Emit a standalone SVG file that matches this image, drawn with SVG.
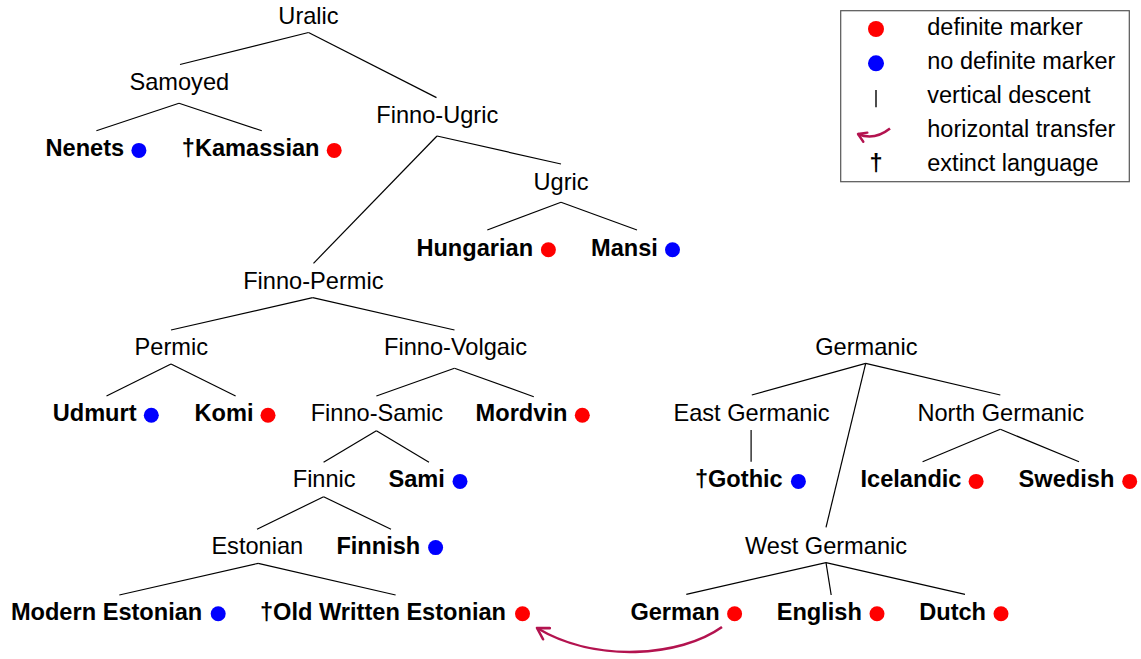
<svg xmlns="http://www.w3.org/2000/svg" width="1141" height="659" viewBox="0 0 1141 659">
<style>
text{font-family:"Liberation Sans",Arial,sans-serif;font-size:23.6px;fill:#000}
.n{text-anchor:middle}
.l{font-weight:bold}
.lg{font-size:23.5px}
.r{fill:#ff0000}
.b{fill:#0000ff}
#connectors line{stroke:#000;stroke-width:1.2}
.ht{fill:none;stroke:#b3134f;stroke-width:2.6}
</style>
<defs>
<marker id="ah" markerUnits="userSpaceOnUse" viewBox="-14 -8 16 16" markerWidth="16" markerHeight="16" orient="auto" refX="0" refY="0">
<path d="M -11 -6.5 L 0 0 L -11 6.5" fill="none" stroke="#b3134f" stroke-width="2.6" stroke-linecap="round" stroke-linejoin="round"/>
</marker>
<marker id="ahs" markerUnits="userSpaceOnUse" viewBox="-12 -7 14 14" markerWidth="14" markerHeight="14" orient="auto" refX="0" refY="0">
<path d="M -8 -5 L 0 0 L -8 5" fill="none" stroke="#b3134f" stroke-width="2.4" stroke-linecap="round" stroke-linejoin="round"/>
</marker>
</defs>
<rect width="1141" height="659" fill="#fff"/>

<g id="connectors">
<line x1="308.5" y1="32.5" x2="180" y2="64.5"/>
<line x1="308.5" y1="32.5" x2="436.5" y2="97.6"/>
<line x1="179" y1="103.3" x2="96.4" y2="130.7"/>
<line x1="179" y1="103.3" x2="261.8" y2="130.7"/>
<line x1="437" y1="136" x2="561" y2="164"/>
<line x1="437" y1="136" x2="313.5" y2="263.3"/>
<line x1="561" y1="202.3" x2="487.3" y2="230"/>
<line x1="561" y1="202.3" x2="637" y2="230"/>
<line x1="312.7" y1="297.7" x2="171" y2="330"/>
<line x1="312.7" y1="297.7" x2="454.5" y2="330"/>
<line x1="171" y1="364" x2="106.5" y2="396"/>
<line x1="171" y1="364" x2="235.6" y2="396"/>
<line x1="454.5" y1="368.3" x2="376.4" y2="396"/>
<line x1="454.5" y1="368.3" x2="533.8" y2="396.7"/>
<line x1="376.4" y1="430.7" x2="323.6" y2="462.3"/>
<line x1="376.4" y1="430.7" x2="429" y2="462.3"/>
<line x1="323.6" y1="496.7" x2="257" y2="529.3"/>
<line x1="323.6" y1="496.7" x2="391" y2="529.3"/>
<line x1="258.2" y1="563.3" x2="119.3" y2="595"/>
<line x1="258.2" y1="563.3" x2="395.6" y2="595"/>
<line x1="865.7" y1="363.3" x2="751.8" y2="395"/>
<line x1="865.7" y1="363.3" x2="1000.3" y2="395"/>
<line x1="865.7" y1="363.3" x2="826" y2="527.3"/>
<line x1="751.1" y1="430" x2="751.1" y2="461.7"/>
<line x1="1000.3" y1="429.3" x2="922.6" y2="461.7"/>
<line x1="1000.3" y1="429.3" x2="1079" y2="461.7"/>
<line x1="826" y1="562.7" x2="686.3" y2="594.3"/>
<line x1="826" y1="562.7" x2="831.2" y2="595"/>
<line x1="826" y1="562.7" x2="965" y2="594.3"/>
<path class="ht" d="M 722 627 C 680 657, 595 663, 537 628" marker-end="url(#ah)"/>
</g>

<g id="uralic"><text class="n" x="308.5" y="24">Uralic</text></g>
<g id="samoyed"><text class="n" x="179.3" y="90.2">Samoyed</text></g>
<g id="finno-ugric"><text class="n" x="437.3" y="123.3">Finno-Ugric</text></g>
<g id="nenets"><text class="l" x="45.5" y="156.4">Nenets</text><circle class="b" cx="138.9" cy="150.4" r="7.5"/></g>
<g id="kamassian"><text class="l" x="181.8" y="156.4">†Kamassian</text><circle class="r" cx="334.2" cy="150.4" r="7.5"/></g>
<g id="ugric"><text class="n" x="561" y="189.5">Ugric</text></g>
<g id="hungarian"><text class="l" x="416.4" y="255.7">Hungarian</text><circle class="r" cx="548.4" cy="249.7" r="7.5"/></g>
<g id="mansi"><text class="l" x="591" y="255.7">Mansi</text><circle class="b" cx="672.5" cy="249.7" r="7.5"/></g>
<g id="finno-permic"><text class="n" x="313.3" y="288.8">Finno-Permic</text></g>
<g id="permic"><text class="n" x="171.3" y="355">Permic</text></g>
<g id="finno-volgaic"><text class="n" x="455.5" y="355">Finno-Volgaic</text></g>
<g id="udmurt"><text class="l" x="52.7" y="421.2">Udmurt</text><circle class="b" cx="151.3" cy="415.2" r="7.5"/></g>
<g id="komi"><text class="l" x="194.5" y="421.2">Komi</text><circle class="r" cx="268" cy="415.2" r="7.5"/></g>
<g id="finno-samic"><text class="n" x="376.9" y="421.2">Finno-Samic</text></g>
<g id="mordvin"><text class="l" x="475.6" y="421.2">Mordvin</text><circle class="r" cx="582.3" cy="415.2" r="7.5"/></g>
<g id="finnic"><text class="n" x="324.2" y="487.4">Finnic</text></g>
<g id="sami"><text class="l" x="388.4" y="487.4">Sami</text><circle class="b" cx="460" cy="481.4" r="7.5"/></g>
<g id="estonian"><text class="n" x="257.3" y="553.6">Estonian</text></g>
<g id="finnish"><text class="l" x="336.4" y="553.6">Finnish</text><circle class="b" cx="435.6" cy="547.6" r="7.5"/></g>
<g id="modern-estonian"><text class="l" x="10.9" y="619.8">Modern Estonian</text><circle class="b" cx="218.2" cy="613.8" r="7.5"/></g>
<g id="old-written-estonian"><text class="l" x="260" y="619.8">†Old Written Estonian</text><circle class="r" cx="522.5" cy="613.8" r="7.5"/></g>

<g id="germanic"><text class="n" x="866.3" y="355">Germanic</text></g>
<g id="east-germanic"><text class="n" x="751.5" y="421.2">East Germanic</text></g>
<g id="north-germanic"><text class="n" x="1000.7" y="421.2">North Germanic</text></g>
<g id="gothic"><text class="l" x="694.9" y="487.4">†Gothic</text><circle class="b" cx="798.4" cy="481.4" r="7.5"/></g>
<g id="icelandic"><text class="l" x="860.5" y="487.4">Icelandic</text><circle class="r" cx="976.1" cy="481.4" r="7.5"/></g>
<g id="swedish"><text class="l" x="1018.6" y="487.4">Swedish</text><circle class="r" cx="1129.7" cy="481.4" r="7.5"/></g>
<g id="west-germanic"><text class="n" x="826" y="553.6">West Germanic</text></g>
<g id="german"><text class="l" x="630.4" y="619.8">German</text><circle class="r" cx="734.6" cy="613.8" r="7.5"/></g>
<g id="english"><text class="l" x="776.7" y="619.8">English</text><circle class="r" cx="877" cy="613.8" r="7.5"/></g>
<g id="dutch"><text class="l" x="919.2" y="619.8">Dutch</text><circle class="r" cx="1001" cy="613.8" r="7.5"/></g>

<g id="legend">
<rect x="840.7" y="10.7" width="288.6" height="171" fill="#fff" stroke="#555" stroke-width="1.2"/>
<circle class="r" cx="876" cy="29" r="8"/>
<text class="lg" x="927.3" y="35">definite marker</text>
<circle class="b" cx="876" cy="63.3" r="8"/>
<text class="lg" x="927.3" y="69.3">no definite marker</text>
<line x1="876" y1="90" x2="876" y2="107.3" stroke="#000" stroke-width="1.4"/>
<text class="lg" x="927.3" y="103">vertical descent</text>
<path class="ht" d="M 890 128.5 Q 874 141 858 134" marker-end="url(#ahs)"/>
<text class="lg" x="927.3" y="137">horizontal transfer</text>
<text x="876" y="171" text-anchor="middle" font-weight="bold" font-size="29">†</text>
<text class="lg" x="927.3" y="170.5">extinct language</text>
</g>
</svg>
